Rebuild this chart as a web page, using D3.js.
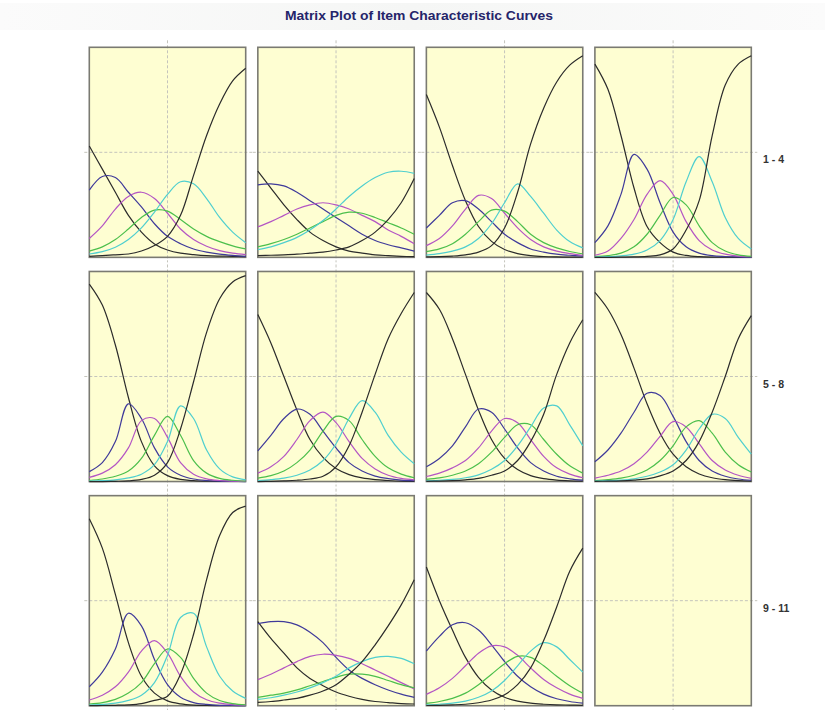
<!DOCTYPE html>
<html><head><meta charset="utf-8">
<script src="https://cdn.jsdelivr.net/npm/d3@7"></script>
<style>html,body{margin:0;padding:0;background:#fff;}svg{display:block;}</style>
</head><body><svg id="chart" width="825" height="710"></svg>
<script>
// ---- data ----
const theta = [-3,-2.5,-2,-1.5,-1,-0.5,0,0.5,1,1.5,2,2.5,3];
const rowLabels = ["1 - 4","5 - 8","9 - 11"];
const categories = ["Category 1","Category 2","Category 3","Category 4","Category 5","Category 6"];
// each item: six category curves, one value per theta
const item1 = [
  [.53,.42,.31,.20,.12,.064,.035,.02,.013,.008,.006,.005,.003],
  [.32,.385,.38,.31,.24,.16,.10,.065,.04,.025,.015,.009,.005],
  [.09,.15,.23,.29,.31,.28,.21,.135,.085,.053,.032,.02,.013],
  [.03,.05,.085,.135,.19,.225,.22,.18,.135,.10,.075,.055,.04],
  [.016,.027,.048,.085,.14,.215,.30,.36,.35,.28,.19,.12,.07],
  [.005,.008,.012,.016,.03,.056,.10,.20,.39,.58,.73,.84,.90]
];
const item2 = [
  [.41,.33,.25,.18,.12,.08,.05,.03,.02,.012,.008,.005,.003],
  [.345,.35,.34,.31,.27,.23,.19,.15,.11,.08,.06,.045,.03],
  [.145,.17,.20,.23,.25,.26,.25,.23,.20,.17,.13,.10,.065],
  [.05,.065,.085,.11,.14,.17,.20,.215,.21,.19,.165,.14,.11],
  [.037,.05,.07,.095,.13,.175,.23,.29,.34,.38,.405,.41,.40],
  [.008,.01,.012,.015,.02,.025,.035,.05,.08,.12,.18,.26,.375]
];
const item3 = [
  [.775,.62,.437,.27,.147,.076,.037,.018,.0085,.004,.002,.001,.0005],
  [.14,.20,.26,.27,.23,.17,.11,.07,.04,.025,.015,.01,.006],
  [.056,.09,.15,.23,.295,.28,.21,.14,.085,.05,.03,.018,.01],
  [.027,.04,.065,.11,.17,.225,.22,.17,.11,.07,.045,.028,.017],
  [.011,.018,.03,.05,.09,.16,.26,.35,.29,.21,.13,.075,.045],
  [.002,.003,.006,.012,.025,.056,.14,.31,.54,.71,.835,.915,.96]
];
const item4 = [
  [.92,.80,.58,.33,.147,.07,.025,.009,.003,.001,.0005,.0003,.0001],
  [.07,.15,.30,.49,.42,.26,.12,.05,.02,.008,.004,.002,.001],
  [.01,.03,.09,.18,.30,.365,.30,.17,.08,.035,.015,.006,.003],
  [.003,.008,.02,.05,.11,.20,.285,.25,.15,.07,.03,.012,.005],
  [.001,.003,.007,.015,.035,.08,.18,.36,.48,.36,.19,.09,.04],
  [0,0,.001,.002,.005,.012,.04,.13,.27,.58,.82,.92,.96]
];
const item5 = [
  [.94,.84,.65,.40,.19,.075,.028,.01,.004,.0015,.0006,.0002,.0001],
  [.047,.09,.19,.37,.30,.16,.07,.03,.012,.005,.002,.001,0],
  [.02,.04,.08,.16,.29,.30,.21,.09,.035,.013,.005,.002,.001],
  [.005,.012,.025,.05,.11,.22,.31,.22,.10,.04,.015,.006,.002],
  [.002,.004,.008,.017,.035,.08,.19,.36,.30,.15,.06,.022,.008],
  [0,0,.001,.003,.01,.03,.09,.25,.475,.71,.87,.95,.98]
];
const item6 = [
  [.795,.66,.50,.34,.20,.115,.062,.033,.017,.009,.005,.002,.001],
  [.146,.22,.30,.345,.32,.24,.16,.09,.05,.026,.014,.007,.004],
  [.04,.07,.12,.20,.29,.33,.28,.19,.11,.06,.03,.015,.008],
  [.016,.028,.05,.09,.15,.24,.31,.29,.20,.12,.065,.035,.018],
  [.005,.009,.016,.03,.055,.10,.18,.30,.385,.33,.22,.14,.085],
  [0,.001,.003,.006,.012,.025,.07,.17,.33,.51,.68,.80,.90]
];
const item7 = [
  [.90,.82,.68,.51,.34,.20,.11,.057,.028,.014,.007,.0035,.0017],
  [.07,.11,.17,.26,.345,.33,.25,.16,.09,.05,.025,.013,.007],
  [.024,.04,.065,.10,.16,.24,.30,.28,.20,.12,.065,.035,.018],
  [.01,.017,.03,.05,.085,.14,.21,.27,.27,.20,.13,.075,.04],
  [.003,.006,.01,.018,.032,.058,.10,.17,.26,.35,.36,.27,.17],
  [.001,.002,.004,.008,.015,.03,.05,.10,.19,.32,.51,.66,.77]
];
const item8 = [
  [.90,.82,.70,.54,.37,.23,.13,.07,.036,.018,.009,.0045,.0022],
  [.094,.15,.23,.33,.42,.41,.31,.19,.10,.05,.025,.012,.006],
  [.016,.03,.05,.085,.14,.215,.285,.26,.18,.10,.055,.03,.015],
  [.005,.009,.016,.03,.055,.10,.17,.26,.29,.23,.14,.08,.045],
  [.002,.004,.007,.013,.025,.045,.08,.15,.25,.32,.30,.21,.13],
  [.001,.0015,.003,.007,.013,.027,.05,.10,.19,.33,.50,.68,.79]
];
const item9 = [
  [.89,.75,.53,.30,.14,.06,.023,.009,.003,.001,.0005,.0002,.0001],
  [.09,.16,.27,.44,.38,.22,.10,.04,.015,.006,.002,.001,0],
  [.027,.05,.09,.16,.26,.31,.25,.14,.065,.028,.012,.005,.002],
  [.008,.015,.03,.06,.11,.20,.27,.23,.13,.06,.025,.01,.004],
  [.003,.006,.012,.025,.05,.11,.24,.42,.44,.28,.14,.07,.035],
  [0,.001,.002,.004,.01,.025,.045,.15,.34,.60,.81,.92,.95]
];
const item10 = [
  [.40,.32,.25,.18,.13,.095,.065,.045,.03,.02,.015,.01,.008],
  [.39,.40,.40,.385,.35,.30,.23,.17,.13,.10,.075,.055,.04],
  [.124,.15,.18,.21,.235,.245,.24,.225,.20,.17,.14,.11,.08],
  [.04,.05,.06,.075,.095,.115,.135,.15,.15,.14,.12,.10,.085],
  [.03,.038,.05,.065,.085,.11,.14,.18,.21,.23,.235,.225,.20],
  [.016,.02,.027,.035,.05,.07,.10,.15,.21,.29,.38,.48,.60]
];
const item11 = [
  [.66,.50,.36,.23,.135,.075,.04,.022,.012,.007,.004,.003,.002],
  [.26,.33,.385,.395,.36,.29,.21,.14,.09,.055,.033,.02,.012],
  [.054,.085,.13,.19,.25,.285,.28,.24,.18,.125,.085,.055,.035],
  [.011,.02,.035,.06,.10,.15,.20,.235,.23,.19,.14,.095,.06],
  [.004,.007,.012,.022,.04,.07,.12,.19,.26,.30,.28,.22,.16],
  [.001,.002,.004,.007,.014,.027,.052,.10,.18,.31,.47,.64,.75]
];
const items = [item1,item2,item3,item4,item5,item6,item7,item8,item9,item10,item11];

// ---- styles ----
const lineColors = ["#2b2b2b","#3f3a9a","#b455c4","#4cbf4c","#4fcfcf","#2b2b2b"];
const titleText = "Matrix Plot of Item Characteristic Curves";

const svg = d3.select("#chart");
// faint title band
const grad = svg.append("defs").append("linearGradient").attr("id","band").attr("x1",0).attr("x2",1).attr("y1",0).attr("y2",0);
grad.append("stop").attr("offset","0").attr("stop-color","#fbfbfb");
grad.append("stop").attr("offset","0.5").attr("stop-color","#f5f6f5");
grad.append("stop").attr("offset","1").attr("stop-color","#fbfbfb");
svg.append("rect").attr("x",0).attr("y",3).attr("width",825).attr("height",27).attr("fill","url(#band)");
svg.append("text").attr("x",419).attr("y",20).attr("text-anchor","middle")
  .attr("font-family","Liberation Sans, Arial, sans-serif").attr("font-weight","bold")
  .attr("font-size",13.5).attr("fill","#25256a").attr("textLength",268).attr("lengthAdjust","spacingAndGlyphs")
  .text(titleText);

const nCols = 4, nRows = 3;
const colBand = d3.scaleBand().domain(d3.range(nCols)).range([89.3, 751.3]).paddingInner(0.072);
const rowBand = d3.scaleBand().domain(d3.range(nRows)).range([47.3, 705.7]).paddingInner(0.063);
const pw = colBand.bandwidth(), ph = rowBand.bandwidth();

const x = d3.scaleLinear().domain([theta[0], theta[theta.length-1]]).range([0, pw]);
const y = d3.scaleLinear().domain([0,1]).range([ph,0]);
const line = d3.line().x((d,i)=>x(theta[i])).y(d=>y(d)).curve(d3.curveCatmullRom.alpha(0.5));

for (let r=0;r<nRows;r++){
  for (let c=0;c<nCols;c++){
    const idx = r*nCols+c;
    const g = svg.append("g").attr("transform",`translate(${colBand(c)},${rowBand(r)})`);
    g.append("rect").attr("width",pw).attr("height",ph).attr("fill","#fefed2");
    // dashed reference lines
    g.append("line").attr("x1",x(0)).attr("x2",x(0)).attr("y1",-7).attr("y2",ph+5)
      .attr("stroke","#c4c4bc").attr("stroke-width",1).attr("stroke-dasharray","3,2");
    g.append("line").attr("x1",-5).attr("x2",pw+(c===nCols-1?6:7)).attr("y1",y(0.5)).attr("y2",y(0.5))
      .attr("stroke","#c4c4bc").attr("stroke-width",1).attr("stroke-dasharray","3,2");
    g.append("rect").attr("width",pw).attr("height",ph).attr("fill","none")
      .attr("stroke","#7a7a72").attr("stroke-width",1.6);
    if (idx < items.length){
      const cg = g.append("g");
      items[idx].forEach((vals,k)=>{
        cg.append("path").datum(vals).attr("d",line).attr("fill","none")
          .attr("stroke",lineColors[k]).attr("stroke-width",1.2)
          .append("title").text(categories[k]);
      });
    }
  }
  svg.append("text").attr("x",763).attr("y",rowBand(r)+y(0.5)+11)
    .attr("font-family","Liberation Sans, Arial, sans-serif").attr("font-weight","bold")
    .attr("font-size",10.5).attr("fill","#333").text(rowLabels[r]);
}
</script></body></html>
